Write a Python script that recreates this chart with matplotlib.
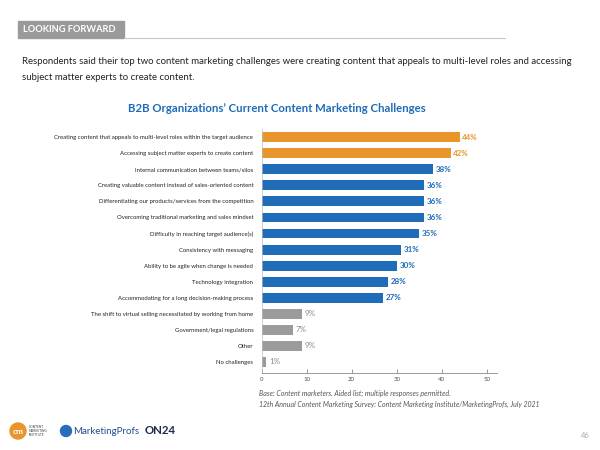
import matplotlib
matplotlib.use("Agg")
import matplotlib.pyplot as plt
from matplotlib.patches import Rectangle, Ellipse

categories = [
    "Creating content that appeals to multi-level roles within the target audience",
    "Accessing subject matter experts to create content",
    "Internal communication between teams/silos",
    "Creating valuable content instead of sales-oriented content",
    "Differentiating our products/services from the competition",
    "Overcoming traditional marketing and sales mindset",
    "Difficulty in reaching target audience(s)",
    "Consistency with messaging",
    "Ability to be agile when change is needed",
    "Technology integration",
    "Accommodating for a long decision-making process",
    "The shift to virtual selling necessitated by working from home",
    "Government/legal regulations",
    "Other",
    "No challenges",
]
values = [44, 42, 38, 36, 36, 36, 35, 31, 30, 28, 27, 9, 7, 9, 1]
groups = ["top", "top"] + ["main"] * 9 + ["minor"] * 4
x_ticks = [0, 10, 20, 30, 40, 50]

ORANGE = "#E8952B"
BLUE = "#1F6CB8"
GREY = "#9B9B9B"
colors = {"top": ORANGE, "main": BLUE, "minor": GREY}

plt.rcParams["font.family"] = ["Lato", "DejaVu Sans"]

fig = plt.figure(figsize=(6.0, 4.5), dpi=100)
W, H = 600.0, 450.0

def fx(px):
    return px / W

def fy(py):
    return 1 - py / H

def dot(cx, cy, r, color):
    # circle in pixel units, drawn in figure fraction
    fig.patches.append(Ellipse((fx(cx), fy(cy)), 2 * r / W, 2 * r / H,
                               transform=fig.transFigure, color=color))

# header band
fig.patches.append(Rectangle((fx(18), fy(38)), fx(106), 17 / H,
                             transform=fig.transFigure, color="#9A9A9A"))
fig.add_artist(plt.Line2D([fx(124), fx(505)], [fy(38), fy(38)],
                          transform=fig.transFigure, color="#C8C8C8", lw=0.8))
fig.text(fx(23), fy(29.5), "LOOKING FORWARD", color="white", fontsize=6.7,
         fontweight="bold", va="center", ha="left")

fig.text(fx(22), fy(61), "Respondents said their top two content marketing challenges were creating "
         "content that appeals to multi-level roles and accessing",
         fontsize=6.9, color="#222222", va="center")
fig.text(fx(22), fy(78), "subject matter experts to create content.",
         fontsize=6.9, color="#222222", va="center")

fig.text(fx(277), fy(108), "B2B Organizations\u2019 Current Content Marketing Challenges",
         fontsize=8.2, fontweight="bold", color=BLUE, ha="center", va="center")

# chart
ax = fig.add_axes([fx(261.7), fy(373.3), fx(496.6 - 261.7), (373.3 - 129) / H])
ypos = list(range(len(categories)))
bar_colors = [colors[g] for g in groups]
ax.barh(ypos, values, height=0.62, color=bar_colors)
ax.set_xlim(0, 52.2)
ax.set_ylim(len(categories) - 1 + 0.72, -0.52)
ax.set_yticks(ypos)
ax.set_yticklabels(categories, fontsize=4.3, color="#222222")
ax.tick_params(axis="y", length=0, pad=6)
ax.set_xticks(x_ticks)
ax.set_xticklabels([str(t) for t in x_ticks], fontsize=4.4, color="#555555")
ax.tick_params(axis="x", direction="in", length=3, width=0.6, color="#888888", pad=3)
for s in ["top", "right"]:
    ax.spines[s].set_visible(False)
ax.spines["bottom"].set_color("#888888")
ax.spines["bottom"].set_linewidth(0.6)
ax.spines["left"].set_color("#BBBBBB")
ax.spines["left"].set_linewidth(0.5)

for y, v, g in zip(ypos, values, groups):
    ax.text(v + 0.6, y, f"{v}%", va="center", ha="left", fontsize=5.8,
            color=colors[g] if g != "minor" else "#8A8A8A",
            fontweight="bold" if g != "minor" else "normal")

# footnotes
fig.text(fx(259), fy(393), "Base: Content marketers. Aided list; multiple responses permitted.",
         fontsize=5.0, style="italic", color="#555555", va="center")
fig.text(fx(259), fy(404), "12th Annual Content Marketing Survey: Content Marketing Institute/"
         "MarketingProfs, July 2021",
         fontsize=5.0, style="italic", color="#555555", va="center")

# logos as simple marks
dot(18, 431, 8, ORANGE)
fig.text(fx(18), fy(431), "cm", color="white", fontsize=6, fontweight="bold",
         ha="center", va="center")
fig.text(fx(29), fy(431), "CONTENT\nMARKETING\nINSTITUTE", fontsize=2.3, color="#444444",
         va="center", linespacing=1.1)
dot(66, 431, 5.5, "#2A6EBB")
fig.text(fx(73), fy(431), "MarketingProfs", fontsize=7.0, color="#1F4E8C",
         va="center")
fig.text(fx(145), fy(431), "ON24", fontsize=8.2, color="#1B2B4B", fontweight="bold",
         va="center")

fig.text(fx(590), fy(436), "46", fontsize=5.5, color="#AAAAAA", ha="right", va="center")

fig.savefig("out.png", dpi=100)
